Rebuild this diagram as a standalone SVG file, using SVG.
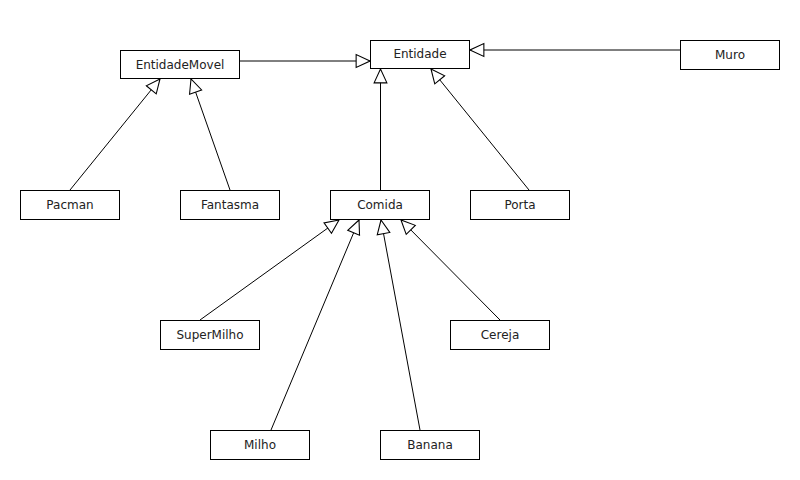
<svg xmlns="http://www.w3.org/2000/svg" width="800" height="480" viewBox="0 0 800 480">
<style>
.box{fill:#fff;stroke:#000;stroke-width:1}
.lbl{font-family:"DejaVu Sans",sans-serif;font-size:12px;fill:#222;text-anchor:middle}
.edge{stroke:#000;stroke-width:1;fill:none;marker-end:url(#tri)}
</style>
<defs>
<marker id="tri" markerUnits="userSpaceOnUse" markerWidth="16" markerHeight="16" viewBox="-14 -7 15 14" refX="0" refY="0" orient="auto">
<path d="M0,0 L-13,-6 L-13,6 Z" fill="#fff" stroke="#000" stroke-width="1"/>
</marker>
</defs>
<rect width="800" height="480" fill="#fff"/>
<g id="connectors">
<line class="edge" x1="240" y1="61" x2="370" y2="61"/>
<line class="edge" x1="680" y1="50" x2="470" y2="50"/>
<line class="edge" x1="70" y1="190" x2="160" y2="79"/>
<line class="edge" x1="230" y1="190" x2="191" y2="79"/>
<line class="edge" x1="380.5" y1="190" x2="380.5" y2="69"/>
<line class="edge" x1="529" y1="190" x2="431" y2="69"/>
<line class="edge" x1="200" y1="320" x2="339" y2="220"/>
<line class="edge" x1="271" y1="430" x2="359" y2="220"/>
<line class="edge" x1="420" y1="430" x2="381" y2="220"/>
<line class="edge" x1="500" y1="320" x2="401" y2="220"/>
</g>
<g id="EntidadeMovel"><rect class="box" x="120.5" y="50.5" width="119" height="28"/><text class="lbl" x="180" y="69">EntidadeMovel</text></g>
<g id="Entidade"><rect class="box" x="370.5" y="40.5" width="99" height="28"/><text class="lbl" x="420" y="58">Entidade</text></g>
<g id="Muro"><rect class="box" x="680.5" y="40.5" width="99" height="29"/><text class="lbl" x="730" y="59">Muro</text></g>
<g id="Pacman"><rect class="box" x="20.5" y="190.5" width="99" height="29"/><text class="lbl" x="70" y="209">Pacman</text></g>
<g id="Fantasma"><rect class="box" x="180.5" y="190.5" width="99" height="29"/><text class="lbl" x="230" y="209">Fantasma</text></g>
<g id="Comida"><rect class="box" x="330.5" y="190.5" width="99" height="29"/><text class="lbl" x="380" y="209">Comida</text></g>
<g id="Porta"><rect class="box" x="470.5" y="190.5" width="99" height="29"/><text class="lbl" x="520" y="209">Porta</text></g>
<g id="SuperMilho"><rect class="box" x="160.5" y="320.5" width="99" height="29"/><text class="lbl" x="210" y="339">SuperMilho</text></g>
<g id="Cereja"><rect class="box" x="450.5" y="320.5" width="99" height="29"/><text class="lbl" x="500" y="339">Cereja</text></g>
<g id="Milho"><rect class="box" x="210.5" y="430.5" width="99" height="29"/><text class="lbl" x="260" y="449">Milho</text></g>
<g id="Banana"><rect class="box" x="380.5" y="430.5" width="99" height="29"/><text class="lbl" x="430" y="449">Banana</text></g>
</svg>
